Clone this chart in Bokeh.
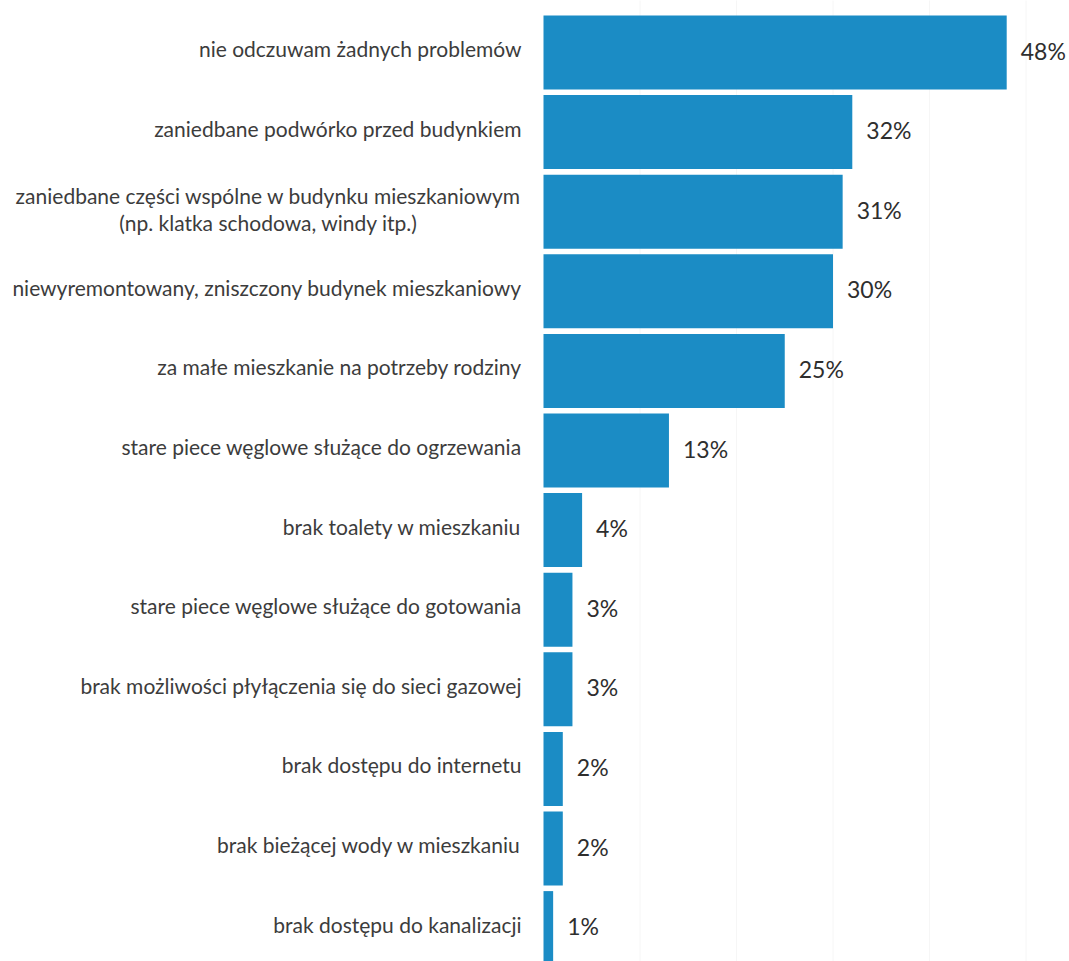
from bokeh.plotting import figure
from bokeh.models import Range1d, ColumnDataSource
from bokeh.core.properties import value
from bokeh.embed import file_html
from bokeh.resources import INLINE

categories = [
    "nie odczuwam żadnych problemów",
    "zaniedbane podwórko przed budynkiem",
    "zaniedbane części wspólne w budynku mieszkaniowym\n(np. klatka schodowa, windy itp.)",
    "niewyremontowany, zniszczony budynek mieszkaniowy",
    "za małe mieszkanie na potrzeby rodziny",
    "stare piece węglowe służące do ogrzewania",
    "brak toalety w mieszkaniu",
    "stare piece węglowe służące do gotowania",
    "brak możliwości płyłączenia się do sieci gazowej",
    "brak dostępu do internetu",
    "brak bieżącej wody w mieszkaniu",
    "brak dostępu do kanalizacji",
]
values = [48, 32, 31, 30, 25, 13, 4, 3, 3, 2, 2, 1]
value_labels = ["48%", "32%", "31%", "30%", "25%", "13%", "4%", "3%", "3%", "2%", "2%", "1%"]

W, H = 1069, 961
x0_px = 543.0
px_per_unit = 9.65
top_center_px = 52.0
pitch_px = 79.6

idx = list(range(len(values)))
single = [i for i, c in enumerate(categories) if "\n" not in c]
multi = [i for i, c in enumerate(categories) if "\n" in c]

src = ColumnDataSource(dict(y=idx, v=values, lab=value_labels))

p = figure(width=W, height=H, output_backend="svg", toolbar_location=None,
           min_border=0, x_axis_location=None, y_axis_location=None)
p.x_range = Range1d(-x0_px / px_per_unit, (W - x0_px) / px_per_unit)
p.y_range = Range1d((H - top_center_px) / pitch_px, -top_center_px / pitch_px)
p.outline_line_color = None
p.background_fill_color = "white"
p.border_fill_color = "white"
p.xgrid.visible = False
p.ygrid.visible = False

# very faint vertical gridlines every 10%
for g in [10, 20, 30, 40, 50]:
    p.segment(x0=[g], x1=[g], y0=[-1], y1=[12], line_color="#f6f6f6", line_width=1)

p.hbar(y="y", left=0, right="v", height=74 / pitch_px, source=src,
       fill_color="#1b8cc5", line_color=None)

p.text(x="v", y="y", text="lab", source=src, x_offset=14, y_offset=-2,
       text_baseline="middle", text_align="left",
       text_font=value("Lato"), text_font_size="23px", text_color="#2e2e2e")

lab_x = -22 / px_per_unit
p.text(x=[lab_x] * len(single), y=[i for i in single],
       text=[categories[i] for i in single], y_offset=-4,
       text_baseline="middle", text_align="right",
       text_font=value("Lato"), text_font_size="21px", text_color="#3c3c3c")

for i in multi:
    lines = categories[i].split("\n")
    cx = (268 - x0_px) / px_per_unit
    p.text(x=[cx, cx], y=[i - 0.2, i + 0.14], text=lines,
           text_baseline="middle", text_align="center",
           text_font=value("Lato"), text_font_size="21px", text_color="#3c3c3c")

open("out.html", "w").write(file_html(p, INLINE))
